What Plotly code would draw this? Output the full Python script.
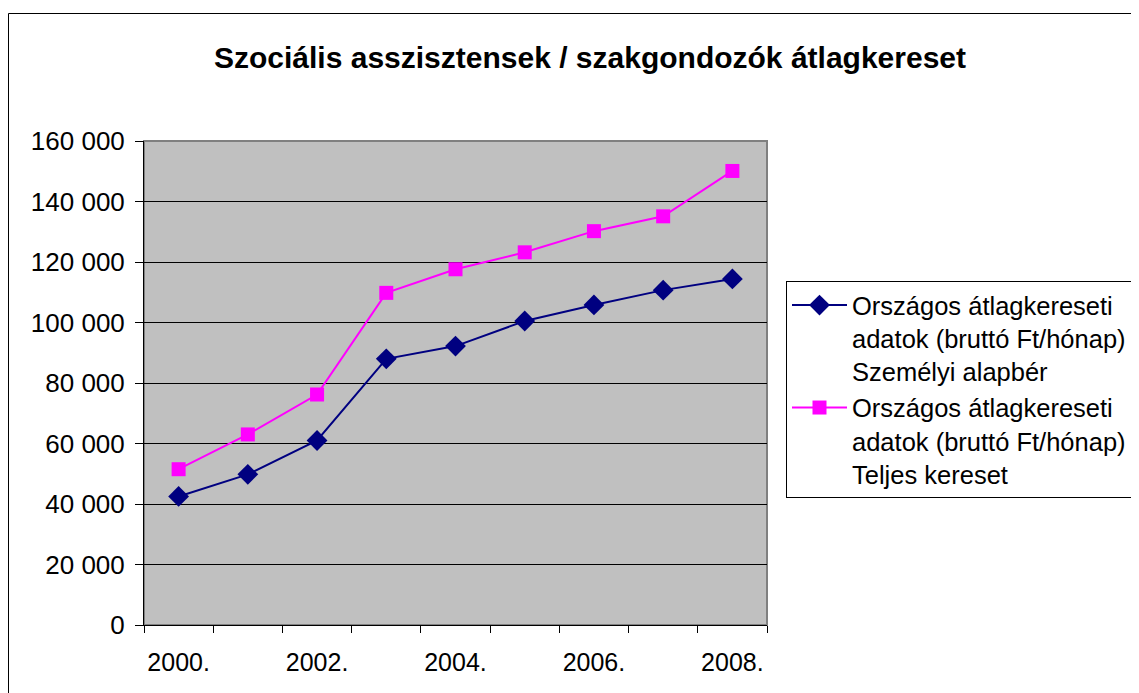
import plotly.graph_objects as go

years = ["2000.", "2001.", "2002.", "2003.", "2004.", "2005.", "2006.", "2007.", "2008."]
alapber = [42500, 49800, 61000, 88000, 92200, 100500, 105800, 110700, 114400]
teljes = [51500, 63000, 76200, 109800, 117600, 123200, 130200, 135100, 150100]
y_ticks = [0, 20000, 40000, 60000, 80000, 100000, 120000, 140000, 160000]
y_labels = ["0", "20 000", "40 000", "60 000", "80 000", "100 000", "120 000", "140 000", "160 000"]

name1 = "Országos átlagkereseti<br>adatok (bruttó Ft/hónap)<br>Személyi alapbér"
name2 = "Országos átlagkereseti<br>adatok (bruttó Ft/hónap)<br>Teljes kereset"

xs = list(range(len(years)))
font = "Liberation Sans, Arial, sans-serif"

fig = go.Figure()
fig.add_trace(go.Scatter(x=xs, y=alapber, name=name1, mode="lines+markers",
                         line=dict(color="#000080", width=2),
                         marker=dict(symbol="diamond", size=16, color="#000080")))
fig.add_trace(go.Scatter(x=xs, y=teljes, name=name2, mode="lines+markers",
                         line=dict(color="#FF00FF", width=2),
                         marker=dict(symbol="square", size=14, color="#FF00FF")))

OFF = 8  # page body margin
W, H = 1139 - OFF, 693 - OFF
L, R, T, B = 144 - OFF, 767 - OFF, 141 - OFF, 625 - OFF
pw, ph = R - L, B - T

def px(x):
    return (x - OFF - L) / pw

def py(y):
    return (B - (y - OFF)) / ph

fig.update_layout(
    width=W, height=H,
    margin=dict(l=L, r=W - R, t=T, b=H - B, pad=0, autoexpand=False),
    paper_bgcolor="white",
    plot_bgcolor="#C0C0C0",
    font=dict(family=font, size=25, color="black"),
    title=dict(text="<b>Szociális asszisztensek / szakgondozók átlagkereset</b>",
               x=px(590), xref="paper", xanchor="center",
               y=1 - (57 - OFF) / H, yanchor="middle",
               font=dict(size=30, family=font, color="black")),
    showlegend=True,
    legend=dict(x=px(786), y=py(281), xanchor="left", yanchor="top",
                bgcolor="white", bordercolor="black", borderwidth=1,
                font=dict(size=25.5, family=font),
                valign="top", itemwidth=55),
    xaxis=dict(range=[-0.5, 8.5], tickmode="array", tickvals=[0, 2, 4, 6, 8],
               ticktext=[years[i] for i in [0, 2, 4, 6, 8]],
               ticks="", showgrid=False, zeroline=False,
               showline=True, linecolor="black", linewidth=1,
               ticklabelstandoff=15,
               minor=dict(tickmode="linear", tick0=-0.5, dtick=1, ticks="outside",
                          ticklen=7, tickcolor="black", showgrid=False),
               tickfont=dict(size=25)),
    yaxis=dict(range=[0, 160000], tickmode="array", tickvals=y_ticks, ticktext=y_labels,
               ticks="outside", ticklen=8, tickcolor="black",
               ticklabelstandoff=5,
               showgrid=True, gridcolor="black", gridwidth=1, zeroline=False,
               showline=True, linecolor="black", linewidth=1,
               tickfont=dict(size=26)),
)

# plot area grey border
fig.add_shape(type="rect", xref="paper", yref="paper", x0=0, y0=0, x1=1, y1=1,
              line=dict(color="#808080", width=2), fillcolor="rgba(0,0,0,0)", layer="below")
# outer chart frame
fig.add_shape(type="rect", xref="paper", yref="paper",
              x0=px(8.5), y0=py(740), x1=px(1180), y1=py(13.5),
              line=dict(color="black", width=1), fillcolor="rgba(0,0,0,0)")

fig.write_html("out.html")
